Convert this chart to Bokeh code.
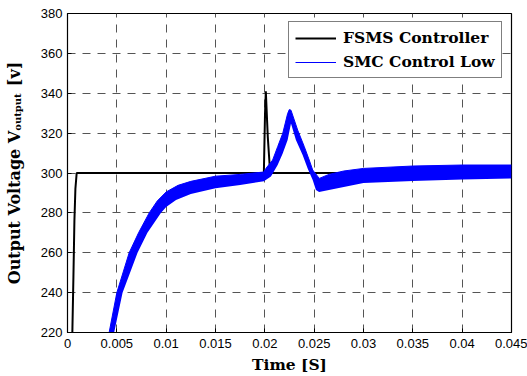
from bokeh.plotting import figure
from bokeh.models import Range1d, FixedTicker, Legend, LegendItem, LinearAxis
from bokeh.embed import file_html
from bokeh.resources import INLINE

# ---- data ----
x_ticks = [0, 0.005, 0.01, 0.015, 0.02, 0.025, 0.03, 0.035, 0.04, 0.045]
x_tick_labels = ["0", "0.005", "0.01", "0.015", "0.02", "0.025", "0.03", "0.035", "0.04", "0.045"]
y_ticks = [220, 240, 260, 280, 300, 320, 340, 360, 380]
y_tick_labels = ["220", "240", "260", "280", "300", "320", "340", "360", "380"]

# FSMS controller (black trace)
fsms_t = [0.0004, 0.0005, 0.0006, 0.0007, 0.0008, 0.00093, 0.0199, 0.02002, 0.0201, 0.0203, 0.0205, 0.0207, 0.045]
fsms_v = [200, 222, 248, 276, 292, 300, 300, 330, 341, 318, 303, 300, 300]

# SMC control law (blue ripple band): upper and lower envelopes
smc_upper_t = [0.00422, 0.0050, 0.00625, 0.0072, 0.00828, 0.0091, 0.0100, 0.0112, 0.0125, 0.0150,
               0.0175, 0.0199, 0.02011, 0.02079, 0.0213, 0.02181, 0.02231, 0.02248, 0.02265, 0.02333,
               0.0240, 0.0245, 0.02485, 0.02552, 0.0265, 0.0280, 0.0300, 0.0350, 0.0400, 0.0450]
smc_upper_v = [220, 240, 260, 270, 280, 286, 290.5, 293.8, 295.8, 298.4,
               299.3, 300.5, 302.3, 306.5, 313.2, 319.8, 329.8, 331.8, 331.5, 321.5,
               313.2, 306.5, 301.5, 297.3, 299.3, 301, 302.3, 303.5, 304, 304]
smc_lower_t = [0.00473, 0.00558, 0.0071, 0.0081, 0.00946, 0.0100, 0.0110, 0.0125, 0.0150, 0.0175,
               0.0199, 0.02062, 0.0213, 0.02181, 0.02231, 0.02265, 0.02315, 0.02383, 0.02434, 0.02485,
               0.02518, 0.0255, 0.0265, 0.0280, 0.0300, 0.0350, 0.0400, 0.0450]
smc_lower_v = [220, 240, 260, 270, 280, 283, 286.5, 289.5, 292.3, 294,
               295.8, 298.2, 304, 309.8, 316.5, 324.8, 316.5, 309, 302.3, 296.5,
               291.5, 290.5, 291.5, 293, 295, 296, 296.8, 297.3]

series_names = ["FSMS Controller", "SMC Control Low"]
y_label_main = "Output Voltage V"
y_label_sub = "output"
y_label_unit = "[v]"
x_label = "Time [S]"

# ---- figure ----
p = figure(width=527, height=376, output_backend="svg", toolbar_location=None,
           x_range=Range1d(0, 0.045), y_range=Range1d(220, 380),
           min_border_left=67, min_border_right=16, min_border_top=13, min_border_bottom=43)
p.background_fill_color = "white"
p.border_fill_color = "white"
p.outline_line_color = "black"
p.outline_line_width = 1.2

black_line = p.line(fsms_t, fsms_v, line_color="black", line_width=2)

band_t = smc_upper_t + smc_lower_t[::-1]
band_v = smc_upper_v + smc_lower_v[::-1]
p.patch(band_t, band_v, fill_color="#0000ff", line_color=None)
blue_line = p.line(smc_upper_t, smc_upper_v, line_color="#0000ff", line_width=1)

lab_font = "DejaVu Serif"

# axes
for ax in (p.xaxis[0], p.yaxis[0]):
    ax.major_tick_in = 4
    ax.major_tick_out = 0
    ax.minor_tick_in = 0
    ax.minor_tick_out = 0
    ax.axis_line_color = "black"
    ax.major_tick_line_color = "black"
    ax.major_label_text_font = "Liberation Sans"
    ax.major_label_text_font_size = "13px"
    ax.major_label_text_color = "black"
    ax.major_label_text_font_style = "normal"

p.xaxis[0].ticker = FixedTicker(ticks=x_ticks)
p.xaxis[0].major_label_overrides = {t: l for t, l in zip(x_ticks, x_tick_labels)}
p.xaxis[0].major_label_standoff = 6
p.xaxis[0].axis_label = x_label
p.xaxis[0].axis_label_text_font = lab_font
p.xaxis[0].axis_label_text_font_style = "bold"
p.xaxis[0].axis_label_text_font_size = "15.5px"
p.xaxis[0].axis_label_text_color = "black"
p.xaxis[0].axis_label_standoff = 4

p.yaxis[0].ticker = FixedTicker(ticks=y_ticks)
p.yaxis[0].major_label_overrides = {t: l for t, l in zip(y_ticks, y_tick_labels)}
p.yaxis[0].major_label_standoff = 5
# subscript of the y label, shifted up along the axis with no-break spaces
p.yaxis[0].axis_label = "\u00a0" * 35 + y_label_sub
p.yaxis[0].axis_label_text_font = lab_font
p.yaxis[0].axis_label_text_font_style = "bold"
p.yaxis[0].axis_label_text_font_size = "10px"
p.yaxis[0].axis_label_text_color = "black"
p.yaxis[0].axis_label_standoff = 15

# second (label-only) axis carrying the main part of the y label
label_axis = LinearAxis(ticker=FixedTicker(ticks=[]), axis_line_color=None,
                        major_tick_in=0, major_tick_out=0, minor_tick_in=0, minor_tick_out=0,
                        major_label_standoff=0,
                        axis_label=y_label_main + "\u00a0" * 8 + y_label_unit,
                        axis_label_text_font=lab_font, axis_label_text_font_style="bold",
                        axis_label_text_font_size="16px", axis_label_text_color="black",
                        axis_label_standoff=-15)
p.add_layout(label_axis, "left")

for g in (p.xgrid[0], p.ygrid[0]):
    g.grid_line_color = "#555555"
    g.grid_line_dash = "8 7"
    g.grid_line_width = 1

legend = Legend(items=[LegendItem(label=series_names[0], renderers=[black_line]),
                       LegendItem(label=series_names[1], renderers=[blue_line])],
                location=(221, 254))
legend.border_line_color = "black"
legend.border_line_width = 1
legend.background_fill_color = "white"
legend.background_fill_alpha = 1
legend.label_text_font = lab_font
legend.label_text_font_style = "bold"
legend.label_text_font_size = "15.5px"
legend.label_text_color = "black"
legend.glyph_width = 41
legend.glyph_height = 18
legend.label_height = 18
legend.spacing = 5
legend.padding = 6
legend.margin = 0
legend.label_standoff = 7
p.add_layout(legend, "center")

open("out.html", "w").write(file_html(p, INLINE))
